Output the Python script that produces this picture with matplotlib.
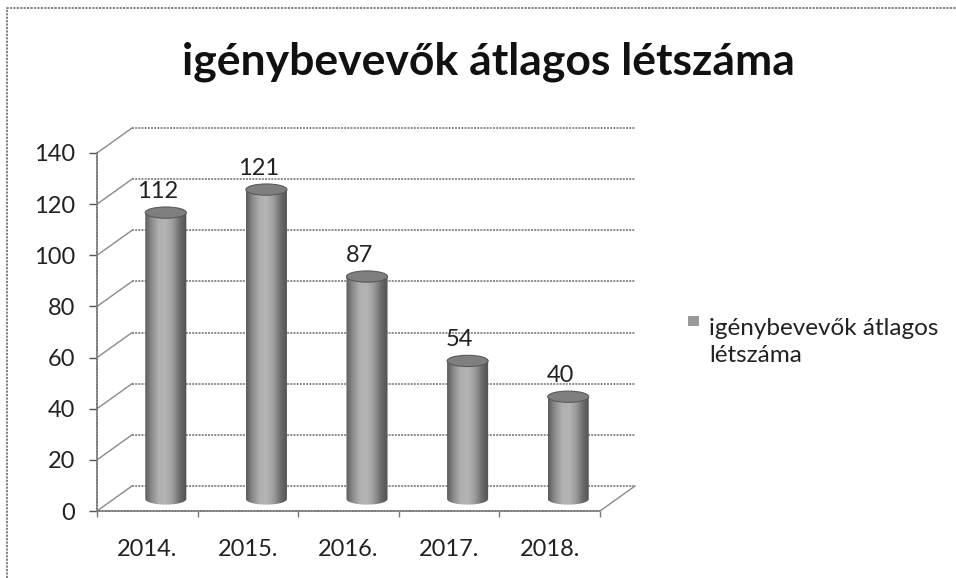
import numpy as np
import matplotlib
matplotlib.use('Agg')
import matplotlib.pyplot as plt
from matplotlib.colors import LinearSegmentedColormap
from matplotlib.lines import Line2D
from matplotlib.patches import Ellipse, PathPatch, Rectangle
from matplotlib.path import Path
from matplotlib.transforms import Affine2D

years = ['2014.', '2015.', '2016.', '2017.', '2018.']
values = [112, 121, 87, 54, 40]
y_ticks = [0, 20, 40, 60, 80, 100, 120, 140]
title = 'igénybevevők átlagos létszáma'
legend_label = 'igénybevevők átlagos\nlétszáma'

W, H = 956, 578
FONT = ['Lato', 'Open Sans']
TEXT = '#222222'
GRID = '#7a7a7a'
DOTS = (0, (1.2, 0.7))
FS = 17

fig = plt.figure(figsize=(W / 100, H / 100), dpi=100)
ax = fig.add_axes([97 / W, 1 - 511 / H, 503 / W, 358 / H])
ax.patch.set_visible(False)
ax.set_xlim(0, 5)
ax.set_ylim(0, 140)

# frame of the pasted chart, only top and left survive in the scan
fig.add_artist(Line2D([7 / W, 7 / W, 1], [0, 1 - 8 / H, 1 - 8 / H], color='#777777', lw=1.3, ls=DOTS))

back = ax.transData + Affine2D().translate(35, 25)
cyl = ax.transData + Affine2D().translate(18.5, 12)


def to_back(x, v):
    return ax.transData.inverted().transform(ax.transData.transform((x, v)) + np.array([35, 25]))


# walls and floor
for v in y_ticks:
    ax.plot([0, 5], [v, v], transform=back, color=GRID, lw=1.2, ls=DOTS, zorder=1, clip_on=False)
    xb, yb = to_back(0, v)
    ax.plot([0, xb], [v, yb], color='#8a8a8a', lw=1, zorder=1, clip_on=False)
xb, yb = to_back(5, 0)
ax.plot([5, xb], [0, yb], color='#8a8a8a', lw=1, zorder=1, clip_on=False)

# shading across one cylinder
shade = LinearSegmentedColormap.from_list('cyl', ['#5c5c5c', '#8e8e8e', '#b0b0b0', '#b4b4b4', '#9c9c9c', '#6c6c6c', '#505050'])
grad = np.linspace(0, 1, 128).reshape(1, -1)
rx, ry = 0.204, 2.2
theta = np.linspace(np.pi, 2 * np.pi, 40)

for i, v in enumerate(values):
    xc = i + 0.5
    xs = np.r_[xc + rx * np.cos(theta), xc + rx, xc - rx, xc - rx]
    ys = np.r_[ry * np.sin(theta), v, v, 0]
    im = ax.imshow(grad, extent=(xc - rx, xc + rx, -ry, v), aspect='auto', cmap=shade,
                   transform=cyl, zorder=3)
    clip = PathPatch(Path(np.column_stack([xs, ys])), transform=cyl, fc='none', ec='none')
    ax.add_patch(clip)
    im.set_clip_path(clip)
    ax.add_patch(Ellipse((xc, v), 2 * rx, 2 * ry, transform=cyl, fc='#7f7f7f', ec='#5a5a5a', lw=0.8, zorder=4))
    ax.annotate(str(v), (xc, v), xytext=(10.5, 26.5), textcoords='offset pixels', ha='center', va='baseline',
                fontsize=FS, family=FONT, color=TEXT, zorder=5)

ax.set_xlim(0, 5)
ax.set_ylim(0, 140)
ax.set_xticks(range(6))
ax.set_xticks(np.arange(5) + 0.5, years, minor=True, fontsize=FS, family=FONT, color=TEXT)
ax.set_xticklabels([])
ax.set_yticks(y_ticks)
ax.set_yticklabels(y_ticks, fontsize=FS, family=FONT, color=TEXT, va='center_baseline')
ax.tick_params(axis='x', which='major', length=4, color=GRID, width=1)
ax.tick_params(axis='x', which='minor', length=0, pad=20)
ax.tick_params(axis='y', length=6, color='#555555', width=1, pad=10)
for side in ['top', 'right']:
    ax.spines[side].set_visible(False)
for side in ['left', 'bottom']:
    ax.spines[side].set_color(GRID)
    ax.spines[side].set_linestyle(DOTS)
    ax.spines[side].set_linewidth(1.2)

fig.text(488.5 / W, 1 - 74 / H, title, ha='center', va='baseline', fontsize=32, fontweight='bold',
         family=FONT, color='#111111')

fig.add_artist(Rectangle((688 / W, 1 - 326 / H), 11 / W, 10 / H, transform=fig.transFigure,
                         fc='#9a9a9a', ec='none'))
fig.text(709 / W, 1 - 362 / H, legend_label, ha='left', va='baseline', fontsize=17.5, family=FONT,
         color=TEXT, linespacing=1.35)

fig.savefig('out.png', dpi=100)
